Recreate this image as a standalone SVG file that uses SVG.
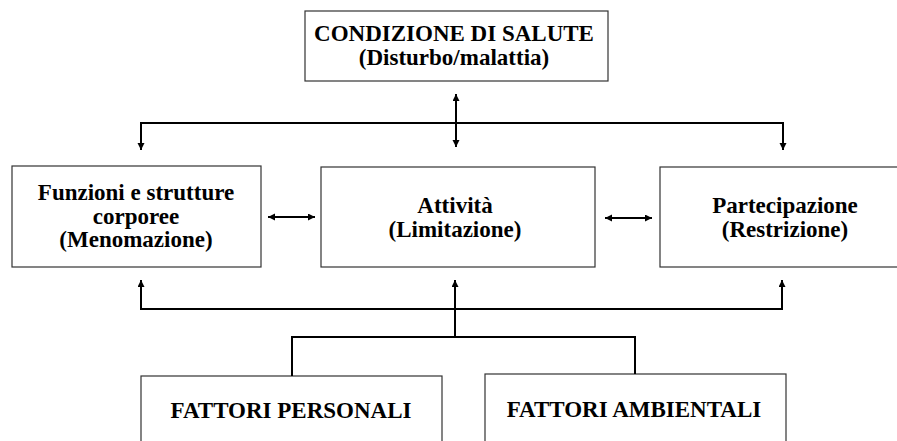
<svg xmlns="http://www.w3.org/2000/svg" width="897" height="441" viewBox="0 0 897 441">
<style>
.box{fill:#fff;stroke:#333;stroke-width:1.2}
.t{font-family:"Liberation Serif","Times New Roman",serif;font-weight:bold;font-size:23px;fill:#000;text-anchor:middle}
.c{fill:none;stroke:#000;stroke-width:2}
</style>
<defs>
<marker id="ah" markerUnits="userSpaceOnUse" markerWidth="8" markerHeight="8" refX="7" refY="3.5" orient="auto-start-reverse">
<path d="M0,0 L7,3.5 L0,7 z" fill="#000"/>
</marker>
</defs>
<rect width="897" height="441" fill="#fff"/>
<g id="condizione">
<rect class="box" x="305" y="11" width="303" height="70"/>
<text class="t" x="454" y="41">CONDIZIONE DI SALUTE</text>
<text class="t" x="454" y="65">(Disturbo/malattia)</text>
</g>
<g id="funzioni">
<rect class="box" x="12" y="166" width="249" height="101"/>
<text class="t" x="136" y="200">Funzioni e strutture</text>
<text class="t" x="136" y="223.5">corporee</text>
<text class="t" x="136" y="247">(Menomazione)</text>
</g>
<g id="attivita">
<rect class="box" x="321" y="167" width="274" height="100"/>
<text class="t" x="455" y="213">Attività</text>
<text class="t" x="455" y="237">(Limitazione)</text>
</g>
<g id="partecipazione">
<rect class="box" x="660" y="167" width="250" height="100"/>
<text class="t" x="785" y="213">Partecipazione</text>
<text class="t" x="785" y="237">(Restrizione)</text>
</g>
<g id="personali">
<rect class="box" x="141" y="376" width="301" height="80"/>
<text class="t" x="291" y="418">FATTORI PERSONALI</text>
</g>
<g id="ambientali">
<rect class="box" x="485" y="374" width="301" height="80"/>
<text class="t" x="634" y="417">FATTORI AMBIENTALI</text>
</g>
<g id="connectors">
<line class="c" x1="456" y1="94" x2="456" y2="147" marker-start="url(#ah)" marker-end="url(#ah)"/>
<polyline class="c" points="141,150 141,123 783,123 783,150" marker-start="url(#ah)" marker-end="url(#ah)"/>
<line class="c" x1="268" y1="217" x2="315" y2="217" marker-start="url(#ah)" marker-end="url(#ah)"/>
<line class="c" x1="605" y1="218" x2="652" y2="218" marker-start="url(#ah)" marker-end="url(#ah)"/>
<polyline class="c" points="141,280 141,309 782,309 782,280" marker-start="url(#ah)" marker-end="url(#ah)"/>
<line class="c" x1="455" y1="337" x2="455" y2="280" marker-end="url(#ah)"/>
<polyline class="c" points="292,376 292,337 635,337 635,374"/>
</g>
</svg>
